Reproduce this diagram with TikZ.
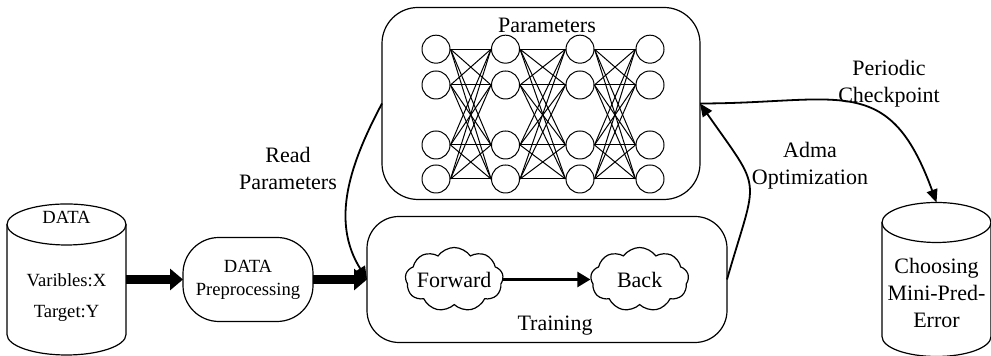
\documentclass[tikz,border=0pt]{standalone}
\usepackage{fontspec}
\setmainfont{Liberation Serif}
\usetikzlibrary{positioning,shapes.symbols,arrows.meta}

\tikzset{
  can/.style={rectangle, inner sep=0pt, outer sep=0pt},
  block/.style={rectangle, draw, line width=0.6pt, inner sep=0pt, outer sep=0pt},
  neuron/.style={circle, draw, line width=0.5pt, minimum size=14pt, inner sep=0pt},
  puff/.style={cloud, draw, line width=0.6pt, cloud puffs=9, cloud puff arc=110,
    aspect=1.6, inner sep=0pt, minimum width=49pt, minimum height=32pt},
  fat/.style={line width=4.75pt, -{Triangle[length=6.5pt,width=10.5pt]}},
  flow/.style={line width=0.9pt, -{Triangle[length=6.5pt,width=5.5pt]}},
  big/.style={font=\fontsize{11pt}{13.5pt}\selectfont},
  small/.style={font=\fontsize{9.3pt}{11.5pt}\selectfont},
}

% outline of a data store round node #1, x radius #2, y radius #3
\newcommand{\drawcan}[3]{%
  \draw[line width=0.6pt] ([yshift=-#3]#1.north west) -- ([yshift=#3]#1.south west)
    arc[start angle=180, end angle=360, x radius=#2, y radius=#3]
    -- ([yshift=-#3]#1.north east);
  \draw[line width=0.6pt] ([yshift=-#3]#1.north) ellipse [x radius=#2, y radius=#3];
}

\begin{document}
\begin{tikzpicture}
  \useasboundingbox (-33.25pt,-38.25pt) rectangle (462.25pt,139.75pt);

  % Define nodes
  \node[can, minimum width=59.5pt, minimum height=75.5pt] (data) {};
  \node[block, small, align=center, rounded corners=18pt, minimum width=65pt,
    minimum height=42pt, right=28.5pt of data] (prep) {DATA\\Preprocessing};
  \node[block, rounded corners=16pt, minimum width=180pt, minimum height=63pt,
    right=27pt of prep] (train) {};
  \node[block, rounded corners=18pt, minimum width=159pt, minimum height=96pt,
    above=8.5pt of train, xshift=-3pt] (param) {};
  \node[can, minimum width=54.5pt, minimum height=77pt,
    right=77.5pt of train] (chk) {};
  \drawcan{data}{29.75pt}{10.25pt}
  \drawcan{chk}{27.25pt}{10pt}

  % Texts in the stores and boxes
  \node[small, anchor=base] (datat) at ([yshift=-10pt]data.north) {DATA};
  \node[small, anchor=base] (varx) at ([yshift=-41.3pt]data.north) {Varibles:X};
  \node[small, anchor=base] (tary) at ([yshift=-57pt]data.north) {Target:Y};
  \node[big, align=center, below=24.2pt of chk.north] (chkt) {Choosing\\Mini-Pred-\\Error};
  \node[big, below=1.9pt of param.north, xshift=3pt] (paramt) {Parameters};
  \node[big, above=0pt of train.south, xshift=4pt] (traint) {Training};

  % Forward and backward pass
  \node[puff, big, right=19pt of train.west] (fwd) {\makebox[0pt]{Forward}};
  \node[puff, big, right=43.5pt of fwd] (bck) {\makebox[0pt]{Back}};

  % Network in the parameter box
  \foreach \i/\x in {1/-52.5,2/-17.75,3/19.5,4/54.5}
    \foreach \j/\y in {1/27.15,2/9.25,3/-20.75,4/-37.75}
      \node[neuron] (n\i\j) at ([shift={(\x pt,\y pt)}]param.center) {};
  \foreach \i/\k in {1/2,2/3,3/4}
    \foreach \a in {1,...,4}
      \foreach \b in {1,...,4}
        \draw[line width=0.5pt] (n\i\a.east) -- (n\k\b.west);

  % Labels
  \node[big, align=center] (readl) at (110.75pt,55.75pt) {Read\\Parameters};
  \node[big, align=center] (admal) at (371.75pt,56.75pt) {Adma\\Optimization};
  \node[big, align=center] (perl) at (411.25pt,97.75pt) {Periodic\\Checkpoint};

  % Connect the nodes
  \draw[fat] (data.east) -- (prep.west);
  \draw[fat] (prep.east) -- (train.west);
  \draw[line width=1.2pt, -{Triangle[length=6.5pt,width=7.5pt]}] (fwd) -- (bck);
  \draw[flow] (param.west) to[out=242, in=122, looseness=1.0] (train.west);
  \draw[flow] (train.east) to[out=74, in=-55, looseness=1.6] (param.east);
  \draw[flow] (param.east) to[out=0, in=110, looseness=1.4] (chk.north);

\end{tikzpicture}
\end{document}
